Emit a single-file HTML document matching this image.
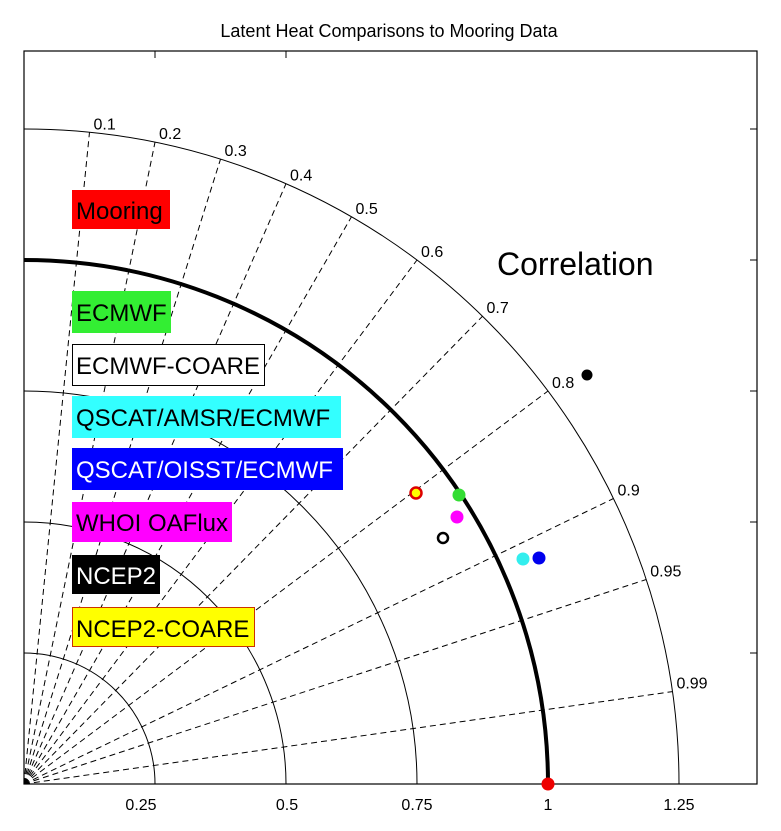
<!DOCTYPE html>
<html><head><meta charset="utf-8"><style>
html,body{margin:0;padding:0;background:#fff;}
svg{display:block;font-family:"Liberation Sans",sans-serif;}
</style></head><body>
<svg id="s" width="781" height="831" viewBox="0 0 781 831" xmlns="http://www.w3.org/2000/svg">
<rect width="781" height="831" fill="#fff"/>
<text x="389" y="37" font-size="18" text-anchor="middle">Latent Heat Comparisons to Mooring Data</text>
<g id="g"></g>
<rect x="24" y="51" width="733" height="733" fill="none" stroke="#000" stroke-width="1.2"/>
<g stroke="#000" stroke-width="1">
<line x1="155" y1="51" x2="155" y2="58"/><line x1="286" y1="51" x2="286" y2="58"/>
<line x1="757" y1="129" x2="750" y2="129"/><line x1="757" y1="260" x2="750" y2="260"/><line x1="757" y1="391" x2="750" y2="391"/><line x1="757" y1="522" x2="750" y2="522"/><line x1="757" y1="653" x2="750" y2="653"/>
</g>
<g font-size="16" text-anchor="middle">
<text x="141" y="810">0.25</text><text x="287" y="810">0.5</text><text x="417" y="810">0.75</text><text x="548" y="810">1</text><text x="679" y="810">1.25</text>
</g>
<text x="497" y="275" font-size="32">Correlation</text>
<g font-size="24">
<rect x="72" y="190" width="98" height="39" fill="#f00"/><text x="76" y="219">Mooring</text>
<rect x="72" y="291" width="99" height="42" fill="#3e3"/><text x="76" y="321">ECMWF</text>
<rect x="72.5" y="344.5" width="192" height="41" fill="#fff" stroke="#000"/><text x="76" y="374">ECMWF-COARE</text>
<rect x="72" y="396" width="269" height="42" fill="#3ff"/><text x="76" y="426">QSCAT/AMSR/ECMWF</text>
<rect x="72" y="448" width="271" height="42" fill="#00f"/><text x="76" y="478" fill="#fff">QSCAT/OISST/ECMWF</text>
<rect x="72" y="502" width="160" height="40" fill="#f0f"/><text x="76" y="531">WHOI OAFlux</text>
<rect x="72" y="555" width="88" height="39" fill="#000"/><text x="76" y="584" fill="#fff">NCEP2</text>
<rect x="72.5" y="607.5" width="182" height="39" fill="#ff0" stroke="#c30"/><text x="76" y="637">NCEP2-COARE</text>
</g>
<circle cx="416" cy="493" r="5.5" fill="#ff0" stroke="#d00" stroke-width="2.5"/>
<circle cx="459" cy="495" r="6.5" fill="#3d3"/>
<circle cx="457" cy="517" r="6.5" fill="#f0f"/>
<circle cx="443" cy="538" r="5" fill="none" stroke="#000" stroke-width="2.5"/>
<circle cx="523" cy="559" r="6.5" fill="#3ee"/>
<circle cx="539" cy="558" r="6.5" fill="#00e"/>
<circle cx="587" cy="375" r="5.5" fill="#000"/>
<circle cx="548" cy="784" r="6.5" fill="#e00"/>
</svg>
<script>
var g=document.getElementById('g'),ns='http://www.w3.org/2000/svg',O=[24,784],S=524;
function el(t,a){var e=document.createElementNS(ns,t);for(var k in a)e.setAttribute(k,a[k]);g.appendChild(e);return e;}
[0.25,0.5,0.75,1.25].forEach(function(r){var R=r*S;el('path',{d:'M'+(O[0]+R)+' '+O[1]+' A'+R+' '+R+' 0 0 0 '+O[0]+' '+(O[1]-R),fill:'none',stroke:'#000','stroke-width':1});});
var cs=[0.1,0.2,0.3,0.4,0.5,0.6,0.7,0.8,0.9,0.95,0.99];
cs.forEach(function(c){var s=Math.sqrt(1-c*c),R=1.25*S,x=O[0]+R*c,y=O[1]-R*s;
el('line',{x1:O[0],y1:O[1],x2:x,y2:y,stroke:'#000','stroke-width':1,'stroke-dasharray':'6,4'});
var t=el('text',{x:x+4,y:y-3,'font-size':16});t.textContent=String(c);});
var R=S;el('path',{d:'M'+(O[0]+R)+' '+O[1]+' A'+R+' '+R+' 0 0 0 '+O[0]+' '+(O[1]-R),fill:'none',stroke:'#000','stroke-width':4});
</script>
</body></html>
